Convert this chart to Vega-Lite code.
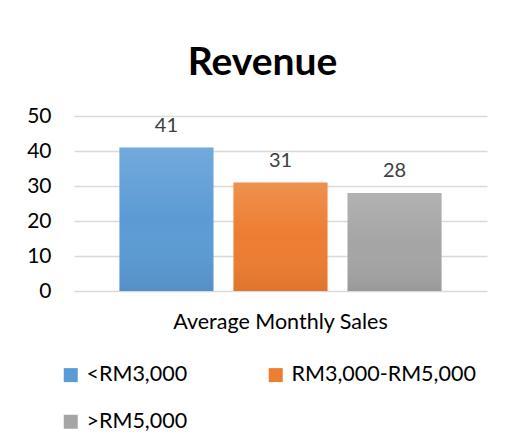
{
  "$schema": "https://vega.github.io/schema/vega-lite/v6.json",
  "width": 413,
  "height": 175,
  "autosize": "none",
  "padding": {"left": 74, "top": 116, "right": 23, "bottom": 155},
  "background": "white",
  "config": {
    "font": "Lato",
    "view": {"stroke": null},
    "axis": {"labelFont": "Lato", "titleFont": "Lato"}
  },
  "title": {
    "text": "Revenue",
    "font": "Lato",
    "fontSize": 39,
    "fontWeight": "bold",
    "color": "#000000",
    "anchor": "middle",
    "dx": -18,
    "offset": 22
  },
  "data": {
    "values": [
      {"metric": "Average Monthly Sales", "group": "<RM3,000", "value": 41},
      {"metric": "Average Monthly Sales", "group": "RM3,000-RM5,000", "value": 31},
      {"metric": "Average Monthly Sales", "group": ">RM5,000", "value": 28}
    ]
  },
  "encoding": {
    "x": {
      "field": "metric",
      "type": "nominal",
      "scale": {"paddingInner": 0, "paddingOuter": 0.141},
      "axis": {
        "title": null,
        "labelAngle": 0,
        "labelFontSize": 21.5,
        "labelLimit": 0,
        "labelColor": "#000000",
        "labelPadding": 20,
        "ticks": false,
        "domain": false
      }
    },
    "xOffset": {
      "field": "group",
      "type": "nominal",
      "scale": {"domain": ["<RM3,000", "RM3,000-RM5,000", ">RM5,000"], "paddingInner": 0.175, "paddingOuter": 0}
    },
    "y": {
      "field": "value",
      "type": "quantitative",
      "scale": {"domain": [0, 50], "nice": false},
      "axis": {
        "title": null,
        "values": [0, 10, 20, 30, 40, 50],
        "labelFontSize": 21,
        "labelColor": "#000000",
        "labelPadding": 23,
        "ticks": false,
        "domain": false,
        "gridColor": "#d9d9d9",
        "gridWidth": 1.5
      }
    }
  },
  "layer": [
    {
      "mark": {"type": "bar"},
      "encoding": {
        "color": {
          "field": "group",
          "type": "nominal",
          "scale": {"domain": ["<RM3,000", "RM3,000-RM5,000", ">RM5,000"], "range": ["#5b9bd5", "#ed7d31", "#a5a5a5"]},
          "legend": {
            "title": null,
            "orient": "none",
            "direction": "horizontal",
            "legendX": -14,
            "legendY": 248,
            "columns": 2,
            "columnPadding": 77,
            "rowPadding": 24,
            "symbolType": "square",
            "symbolSize": 196,
            "symbolStrokeWidth": 0,
            "labelFontSize": 21.5,
            "labelColor": "#000000",
            "labelOffset": 5,
            "labelLimit": 0
          }
        }
      }
    },
    {
      "mark": {
        "type": "bar",
        "color": {
          "x1": 0, "y1": 0, "x2": 0, "y2": 1,
          "gradient": "linear",
          "stops": [
            {"offset": 0, "color": "rgba(255,255,255,0.15)"},
            {"offset": 0.5, "color": "rgba(255,255,255,0)"},
            {"offset": 1, "color": "rgba(0,0,0,0.07)"}
          ]
        }
      }
    },
    {
      "mark": {"type": "text", "baseline": "alphabetic", "dy": -16, "fontSize": 20, "color": "#404040"},
      "encoding": {"text": {"field": "value", "type": "quantitative"}}
    }
  ]
}
